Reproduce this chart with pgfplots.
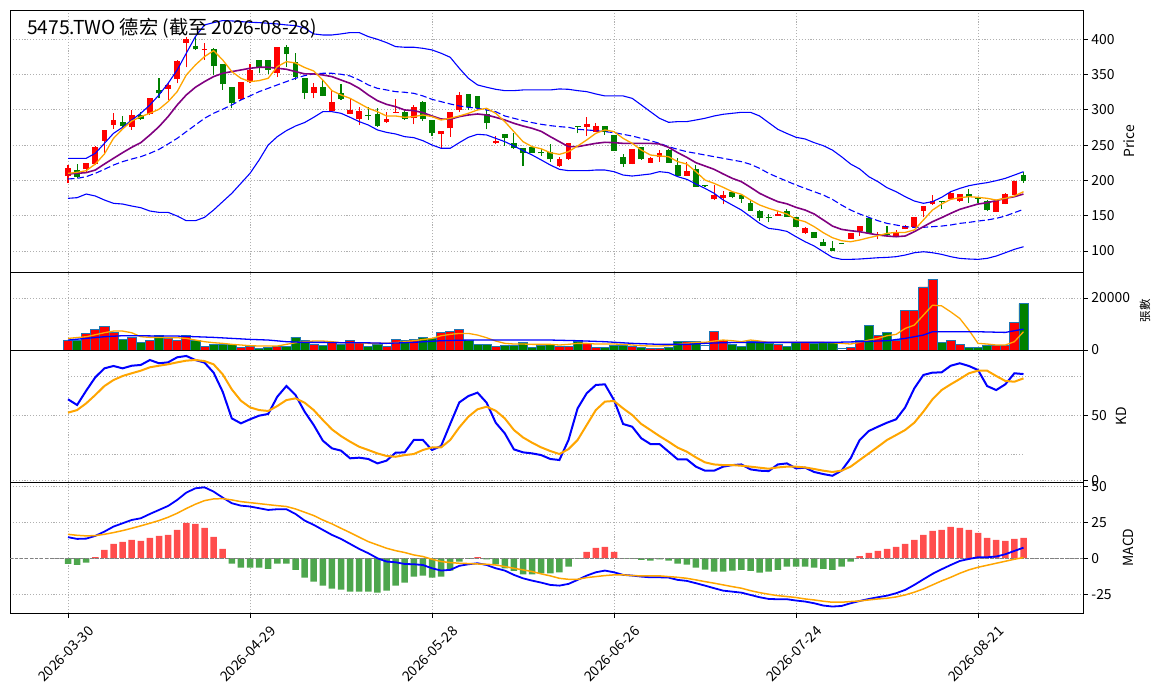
\documentclass[border=0pt]{standalone}
\usepackage{fontspec}
\setmainfont{Noto Sans CJK TC}
\usepackage{pgfplots}
\usepackage{pgfplotstable}
\pgfplotsset{compat=1.18}
\definecolor{cgreen}{RGB}{0,128,0}
\definecolor{hgreen}{RGB}{77,166,77}
\definecolor{hred}{RGB}{255,77,77}
\definecolor{vedge}{RGB}{31,119,180}
\definecolor{maorange}{RGB}{255,165,0}
\definecolor{mapurple}{RGB}{128,0,128}
\definecolor{gridgray}{RGB}{176,176,176}

\pgfplotstableread{
i o h l c v
0 206.2 221.8 196.8 217.1 3822
2 215.7 225.1 212.4 224.2 6497
3 223.2 248.8 221.8 247.3 8026
4 256.3 272.0 238.4 271.5 9173
5 278.5 295.1 272.9 285.6 6752
7 276.2 299.8 271.5 292.7 4714
9 293.7 316.8 292.7 316.3 3567
11 329.6 340.0 314.0 335.3 4459
12 343.3 370.0 337.6 369.3 3822
13 395.3 403.8 360.3 400.0 5733
15 384.9 395.3 370.7 385.8 1274
19 314.9 339.5 314.0 339.0 1019
20 339.0 365.0 337.6 356.5 1529
23 351.8 389.2 347.1 388.7 1274
27 324.4 337.6 316.3 332.0 2293
29 298.9 327.2 298.4 310.7 2930
31 294.1 314.9 293.6 299.8 3822
32 287.0 303.6 278.5 298.4 2803
35 282.3 297.4 281.9 287.0 1400
36 296.0 314.9 295.1 297.2 4204
38 288.0 306.9 279.5 304.5 4204
41 265.3 270.5 245.5 270.0 6752
42 273.8 297.0 262.0 296.5 7262
43 299.8 325.8 296.5 321.1 8026
47 252.5 263.4 252.0 255.9 1274
54 220.9 233.6 219.5 230.3 1401
55 229.9 253.5 229.0 252.5 1401
57 276.2 290.4 263.0 280.0 2675
58 269.1 281.9 268.6 277.1 1019
62 223.2 244.9 222.8 244.5 1274
64 225.1 233.6 224.6 232.2 637
65 232.7 243.0 226.6 239.3 637
68 206.7 226.6 206.3 213.3 3312
71 173.2 193.6 172.2 179.3 7262
72 175.5 185.0 166.1 179.3 3567
78 150.0 156.6 149.6 152.4 2293
81 124.9 133.4 124.5 132.0 2930
86 117.3 125.7 116.9 125.3 1019
87 127.7 135.7 121.5 135.3 3822
89 122.6 126.3 116.9 124.1 5478
91 121.7 129.6 121.3 126.0 3822
92 131.1 136.2 130.7 135.8 15288
93 134.4 148.0 134.0 147.6 15033
94 156.6 163.6 147.6 163.2 24206
95 166.1 179.3 165.7 170.8 27136
97 174.1 183.0 173.7 182.6 3822
98 170.8 181.2 169.9 180.8 2293
102 155.6 171.7 155.2 171.3 1656
103 166.5 181.7 166.1 180.8 1656
104 179.3 199.5 178.9 199.1 10574
}\up

\pgfplotstableread{
i o h l c v
1 214.7 222.8 202.9 205.3 3567
6 282.3 291.3 276.2 277.6 4204
8 292.2 297.4 285.6 287.0 3058
10 328.2 344.7 316.3 323.4 5733
14 390.5 403.8 385.0 385.8 3695
16 385.8 387.2 349.4 362.7 2293
17 365.0 365.5 328.2 336.2 2293
18 332.0 332.5 302.2 309.3 2293
21 370.7 371.2 351.8 358.9 637
22 370.7 371.2 350.9 356.5 1147
24 388.7 392.0 361.2 378.7 1274
25 368.3 380.2 342.3 347.1 4969
26 344.7 345.2 314.9 324.4 3822
28 332.0 343.8 319.5 320.1 1911
30 323.4 336.7 314.0 314.9 2293
33 292.2 303.6 285.6 291.6 1529
34 294.6 302.2 276.0 276.6 2166
37 296.5 299.8 285.6 287.0 3822
39 310.7 313.0 284.7 286.6 4714
40 285.6 286.0 263.0 266.7 4459
44 322.0 322.5 299.8 304.5 3567
45 319.7 320.2 299.8 303.1 2293
46 293.7 299.8 272.4 280.9 2293
48 265.3 265.8 248.8 260.6 1911
49 252.5 267.7 245.0 245.5 1911
50 245.5 246.0 220.4 238.4 2803
51 247.8 248.2 238.8 239.3 1019
52 239.8 244.0 234.6 238.4 1911
53 240.7 251.1 226.6 229.9 2293
56 277.1 277.6 266.7 276.2 3185
59 277.1 277.5 264.4 269.1 1019
60 264.4 264.8 241.8 242.2 1911
61 233.6 236.9 219.5 223.2 1656
63 246.9 247.3 229.5 229.9 1019
66 243.0 244.0 224.7 225.1 892
67 221.8 231.3 206.3 206.7 3312
69 215.7 221.8 190.7 191.1 3312
73 184.0 184.4 174.6 176.9 2166
74 179.3 179.7 168.4 173.6 1274
75 168.4 172.2 156.7 157.1 3440
76 156.6 158.0 142.6 146.2 3440
77 148.6 152.4 140.4 146.2 2548
79 156.6 159.0 148.2 148.6 1274
80 147.6 148.0 134.0 134.4 2930
82 126.3 126.7 118.4 118.8 2548
83 112.2 116.4 107.1 107.5 2930
84 104.6 113.9 100.0 100.4 2803
88 147.2 147.6 124.5 124.9 9555
90 124.1 135.3 121.8 122.2 6625
96 170.8 171.2 159.5 168.9 2803
99 180.8 187.5 168.4 176.0 1019
100 175.5 175.9 168.4 174.1 1019
101 171.3 171.7 156.6 158.0 1911
105 207.6 212.4 196.8 199.1 17836
}\down

\pgfplotstableread{
i o h l c v
70 191.5 192.0 191.0 191.5 1911
85 110.4 110.8 110.0 110.4 637
}\flat

\pgfplotsset{
  panel/.style={
    scale only axis,
    width=1073pt,
    xmin=-6.374, xmax=111.538,
    axis line style={line width=0.8pt},
    xtick={0,20,40,60,80,100},
    grid=major,
    major grid style={draw=gridgray, line width=0.8pt, dash pattern=on 1.1pt off 1.8pt},
    ytick pos=right,
    yticklabel pos=right,
    tick align=outside,
    major tick length=4.9pt,
    every tick/.style={black, line width=0.8pt},
    ticklabel style={font=\fontsize{13.9}{16}\selectfont},
    /pgf/number format/assume math mode=true,
    /pgf/number format/1000 sep={},
    scaled y ticks=false,
    clip=true,
  },
  ylab/.style 2 args={every axis y label/.style={at={(axis description cs:1,0.5)}, xshift=#1, rotate=90, anchor=center, font=\fontsize{#2}{#2}\selectfont}},
  toppanel/.style={xticklabels={}, x tick style={draw=none}},
  wick/.style={draw=none, mark=none, mark size=0pt, forget plot,
    error bars/.cd, y dir=plus, y explicit, error mark=none,
    error bar style={line width=1.1pt, draw=#1, solid}},
  body/.style={draw=none, mark=none, mark size=0pt, forget plot,
    error bars/.cd, y dir=plus, y explicit, error mark=none,
    error bar style={line width=5.8pt, draw=#1, solid}},
  vbar/.style={ybar, bar width=9.1pt, bar shift=0pt, fill=#1, draw=vedge, line width=0.8pt, forget plot},
  refline/.style={draw=gridgray, line width=0.8pt, dash pattern=on 1.1pt off 1.8pt, forget plot},
}

\begin{document}
\begin{tikzpicture}
\useasboundingbox (0,0) rectangle (1164pt,698pt);

% ---------------- Price panel ----------------
\begin{axis}[panel, toppanel, ylab={46pt}{13.9},
  at={(10pt,426pt)}, anchor=south west, height=262pt,
  ymin=70.2, ymax=441.5, ytick={100,150,...,400}, ylabel={Price}]
\addplot[wick=red] table[x=i, y=l, y error expr={\thisrow{h}-\thisrow{l}}] {\up};
\addplot[body=red] table[x=i, y expr={min(\thisrow{o},\thisrow{c})}, y error expr={max(abs(\thisrow{c}-\thisrow{o}),1.4)}] {\up};
\addplot[wick=cgreen] table[x=i, y=l, y error expr={\thisrow{h}-\thisrow{l}}] {\down};
\addplot[body=cgreen] table[x=i, y expr={min(\thisrow{o},\thisrow{c})}, y error expr={max(abs(\thisrow{c}-\thisrow{o}),1.4)}] {\down};
\addplot[wick=cgreen] table[x=i, y=l, y error expr={\thisrow{h}-\thisrow{l}}] {\flat};
\addplot[body=cgreen] table[x=i, y expr={min(\thisrow{o},\thisrow{c})}, y error expr={max(abs(\thisrow{c}-\thisrow{o}),1.4)}] {\flat};
% upper band
\addplot[blue, line width=1.1pt] coordinates {(0,231.3)(1,231.3)(2,231.3)(3,238.4)(4,252.5)(5,266.7)(6,275.2)(7,285.6)(8,295.1)(9,306.9)(10,321.1)(11,337.6)(12,356.5)(13,380.2)(14,403.8)(15,420.3)(16,423.6)(17,426.5)(18,426.0)(19,425.0)(20,424.1)(21,423.6)(22,422.7)(23,421.7)(24,420.3)(25,419.4)(26,416.0)(27,407.6)(28,406.1)(29,406.1)(30,407.6)(31,409.5)(32,409.5)(33,403.8)(34,400.0)(35,395.3)(36,389.6)(37,388.7)(38,388.7)(39,387.2)(40,384.9)(41,380.2)(42,374.5)(43,358.9)(44,344.7)(45,335.3)(46,332.0)(47,329.1)(48,327.2)(49,327.2)(50,328.2)(51,328.2)(52,328.2)(53,328.2)(54,329.6)(55,329.1)(56,327.2)(57,325.8)(58,322.5)(59,319.7)(60,319.7)(61,319.7)(62,316.3)(63,306.9)(64,297.4)(65,288.0)(66,282.3)(67,283.3)(68,283.3)(69,285.6)(70,288.0)(71,291.3)(72,293.7)(73,295.1)(74,296.5)(75,296.5)(76,291.3)(77,281.8)(78,272.4)(79,266.5)(80,261.1)(81,258.7)(82,253.5)(83,249.2)(84,243.0)(85,233.6)(86,223.2)(87,216.2)(88,205.3)(89,198.2)(90,189.7)(91,184.0)(92,176.9)(93,170.8)(94,167.5)(95,169.9)(96,176.0)(97,184.0)(98,188.7)(99,192.5)(100,194.9)(101,196.8)(102,199.6)(103,202.9)(104,207.6)(105,212.4)};
% lower band
\addplot[blue, line width=1.1pt] coordinates {(0,174.6)(1,175.5)(2,180.7)(3,177.9)(4,172.2)(5,167.5)(6,166.5)(7,163.7)(8,161.3)(9,156.6)(10,154.7)(11,154.7)(12,149.5)(13,142.9)(14,142.9)(15,147.6)(16,158.0)(17,169.9)(18,181.7)(19,195.8)(20,210.0)(21,228.9)(22,250.2)(23,262.0)(24,270.5)(25,277.1)(26,282.0)(27,289.4)(28,297.4)(29,297.4)(30,295.1)(31,289.4)(32,283.3)(33,278.5)(34,271.5)(35,268.1)(36,265.8)(37,262.0)(38,260.6)(39,256.3)(40,250.2)(41,245.5)(42,245.5)(43,253.5)(44,261.1)(45,265.3)(46,264.4)(47,259.6)(48,254.9)(49,248.8)(50,242.2)(51,236.0)(52,229.0)(53,221.8)(54,215.7)(55,213.8)(56,213.8)(57,213.8)(58,214.7)(59,214.7)(60,212.4)(61,207.6)(62,206.2)(63,207.6)(64,209.1)(65,212.4)(66,211.0)(67,205.3)(68,201.5)(69,194.9)(70,188.7)(71,181.7)(72,172.2)(73,165.1)(74,158.0)(75,148.6)(76,139.1)(77,132.0)(78,130.4)(79,127.8)(80,120.2)(81,113.1)(82,107.0)(83,98.9)(84,90.9)(85,88.1)(86,88.1)(87,88.6)(88,89.5)(89,90.4)(90,90.9)(91,91.9)(92,94.2)(93,97.5)(94,98.9)(95,97.5)(96,95.2)(97,91.9)(98,89.5)(99,88.6)(100,88.1)(101,89.5)(102,92.8)(103,97.5)(104,102.3)(105,106.0)};
% middle band (MA20)
\addplot[blue, line width=1.1pt, dash pattern=on 6.5pt off 3pt] coordinates {(0,202.0)(1,202.9)(2,205.3)(3,210.0)(4,215.7)(5,221.8)(6,226.6)(7,230.3)(8,233.6)(9,238.4)(10,244.0)(11,251.6)(12,259.6)(13,269.1)(14,278.5)(15,288.0)(16,295.1)(17,300.8)(18,306.9)(19,314.0)(20,319.7)(21,325.8)(22,330.5)(23,335.3)(24,340.0)(25,344.7)(26,348.5)(27,350.9)(28,351.8)(29,351.8)(30,350.4)(31,348.0)(32,342.3)(33,335.3)(34,330.5)(35,328.2)(36,325.8)(37,324.9)(38,323.4)(39,319.7)(40,314.9)(41,311.6)(42,308.3)(43,305.5)(44,303.6)(45,302.2)(46,299.8)(47,297.4)(48,291.3)(49,288.0)(50,284.7)(51,281.9)(52,279.5)(53,277.6)(54,276.2)(55,275.2)(56,272.4)(57,271.5)(58,270.5)(59,269.1)(60,267.7)(61,265.3)(62,262.9)(63,259.6)(64,256.3)(65,252.5)(66,247.8)(67,244.0)(68,240.7)(69,238.4)(70,236.0)(71,233.6)(72,231.3)(73,228.9)(74,226.6)(75,222.8)(76,217.1)(77,210.0)(78,204.3)(79,198.9)(80,193.5)(81,188.7)(82,184.0)(83,179.3)(84,173.1)(85,165.1)(86,158.0)(87,152.4)(88,147.6)(89,142.9)(90,139.1)(91,136.8)(92,134.4)(93,133.5)(94,133.5)(95,134.4)(96,135.3)(97,136.8)(98,139.1)(99,140.5)(100,142.4)(101,143.9)(102,146.2)(103,149.5)(104,154.3)(105,159.0)};
% MA10 purple
\addplot[mapurple, line width=1.6pt] coordinates {(0,209.1)(1,210.0)(2,211.0)(3,214.7)(4,223.2)(5,231.3)(6,239.3)(7,246.9)(8,253.5)(9,264.4)(10,276.2)(11,290.4)(12,306.9)(13,321.1)(14,332.0)(15,340.0)(16,347.1)(17,351.8)(18,354.2)(19,356.5)(20,358.9)(21,360.3)(22,360.3)(23,358.9)(24,357.5)(25,354.2)(26,351.0)(27,350.9)(28,349.4)(29,347.1)(30,342.3)(31,337.6)(32,330.5)(33,321.1)(34,313.0)(35,307.8)(36,304.5)(37,299.8)(38,298.9)(39,296.0)(40,291.3)(41,287.0)(42,286.6)(43,290.4)(44,292.7)(45,294.1)(46,292.7)(47,289.4)(48,285.6)(49,280.9)(50,277.1)(51,273.8)(52,269.5)(53,262.0)(54,254.9)(55,247.8)(56,247.8)(57,250.2)(58,252.5)(59,254.0)(60,253.5)(61,252.5)(62,252.5)(63,252.5)(64,252.5)(65,251.6)(66,246.9)(67,239.3)(68,232.7)(69,225.1)(70,220.4)(71,215.7)(72,209.1)(73,202.9)(74,198.2)(75,190.2)(76,181.7)(77,175.5)(78,169.9)(79,166.8)(80,161.8)(81,158.0)(82,152.4)(83,143.9)(84,135.3)(85,130.6)(86,128.7)(87,127.3)(88,124.9)(89,122.6)(90,121.2)(91,120.2)(92,121.2)(93,127.3)(94,134.4)(95,141.5)(96,147.2)(97,153.3)(98,159.0)(99,162.8)(100,166.5)(101,168.4)(102,171.3)(103,174.6)(104,176.9)(105,180.7)};
% MA5 orange
\addplot[maorange, line width=1.3pt] coordinates {(0,210.0)(1,211.5)(2,213.8)(3,223.2)(4,237.4)(5,259.6)(6,272.9)(7,284.2)(8,290.4)(9,295.1)(10,300.8)(11,311.6)(12,325.8)(13,349.4)(14,363.6)(15,375.4)(16,383.9)(17,370.7)(18,354.2)(19,344.7)(20,340.0)(21,341.4)(22,344.7)(23,361.2)(24,368.3)(25,366.5)(26,360.0)(27,355.1)(28,342.3)(29,327.2)(30,321.1)(31,316.3)(32,309.3)(33,302.2)(34,297.4)(35,291.3)(36,291.3)(37,289.4)(38,290.4)(39,292.7)(40,290.4)(41,285.6)(42,288.0)(43,291.3)(44,295.1)(45,299.8)(46,302.2)(47,295.1)(48,283.3)(49,269.1)(50,254.9)(51,247.8)(52,244.8)(53,239.3)(54,236.9)(55,240.7)(56,248.8)(57,257.3)(58,266.7)(59,271.5)(60,269.1)(61,259.6)(62,252.5)(63,243.0)(64,236.0)(65,234.6)(66,233.6)(67,226.6)(68,223.2)(69,212.4)(70,200.5)(71,195.8)(72,190.2)(73,184.0)(74,180.3)(75,172.2)(76,165.2)(77,160.4)(78,156.5)(79,152.4)(80,144.8)(81,141.5)(82,134.4)(83,125.9)(84,118.8)(85,114.5)(86,113.1)(87,115.5)(88,118.8)(89,121.6)(90,125.0)(91,126.3)(92,126.3)(93,129.7)(94,143.9)(95,158.0)(96,166.5)(97,173.1)(98,175.5)(99,176.9)(100,176.0)(101,174.6)(102,172.2)(103,174.6)(104,177.9)(105,184.0)};
\end{axis}

% ---------------- Volume panel ----------------
\begin{axis}[panel, toppanel, ylab={62pt}{11.5},
  at={(10pt,348pt)}, anchor=south west, height=78pt,
  ymin=0, ymax=29950, ytick={0,20000}, ylabel={張數}]
\addplot[vbar=red] table[x=i, y=v] {\up};
\addplot[vbar=cgreen] table[x=i, y=v] {\down};
\addplot[vbar=white] table[x=i, y=v] {\flat};
\addplot[maorange, line width=1.3pt] coordinates {(0,4459)(2,5096)(4,6625)(5,7262)(6,7262)(7,6625)(8,5096)(9,4841)(10,4841)(11,4714)(12,4714)(13,4459)(14,3822)(15,3185)(16,2803)(17,2548)(18,2166)(19,1911)(20,1656)(21,1529)(22,1529)(23,1529)(24,2166)(25,2803)(26,3185)(27,3440)(28,3440)(29,3185)(30,2803)(31,2803)(32,2803)(33,2548)(34,2548)(35,2548)(36,2803)(38,3567)(40,4459)(41,5478)(42,5988)(43,6370)(44,6370)(45,5733)(46,4714)(47,3440)(48,2548)(49,2293)(50,2293)(51,2166)(52,2166)(53,2166)(54,1911)(55,2166)(56,2548)(57,2548)(58,2293)(59,2293)(60,2293)(61,2166)(62,1911)(63,1656)(64,1529)(65,1529)(66,1656)(67,2166)(68,2548)(69,2930)(70,2930)(71,3440)(72,3822)(73,3567)(74,3185)(75,3822)(76,3440)(77,2930)(78,2930)(79,2930)(80,2930)(81,2930)(82,2930)(83,2930)(84,2803)(85,2548)(86,2293)(87,2930)(88,3822)(89,4459)(90,5478)(91,5988)(92,8281)(93,9555)(94,13377)(95,17199)(96,16944)(97,14651)(98,12103)(99,7644)(100,2548)(101,2293)(102,1911)(103,1911)(104,3185)(105,7007)};
\addplot[blue, line width=1.3pt] coordinates {(0,3822)(2,4459)(4,5096)(6,5478)(8,5478)(10,5351)(12,5351)(14,5096)(16,4841)(18,4459)(20,4077)(22,3822)(24,3185)(26,2930)(28,2930)(30,2803)(32,2803)(34,2675)(35,2548)(38,2930)(41,3567)(44,3822)(47,3822)(50,3822)(53,3822)(56,3567)(59,3185)(62,2548)(65,2166)(68,2166)(70,2548)(72,2803)(75,2930)(78,2930)(81,2930)(84,2930)(87,3185)(90,3567)(92,4459)(94,5733)(95,7007)(97,7007)(100,7007)(103,6752)(105,8026)};
\end{axis}

% ---------------- KD panel ----------------
\begin{axis}[panel, toppanel, ylab={38pt}{13.9},
  at={(10pt,216pt)}, anchor=south west, height=132pt,
  ymin=-1.3, ymax=100.2, ytick={0,50}, ylabel={KD}]
\addplot[refline] coordinates {(0,80)(111.538,80)};
\addplot[refline] coordinates {(0,20)(105,20)};
\addplot[blue, line width=2pt] coordinates {(0,62.3)(1,57.9)(2,68.9)(3,79.2)(4,86.1)(5,87.9)(6,86.1)(7,88.1)(8,88.7)(9,92.5)(10,90.0)(11,90.7)(12,94.6)(13,95.6)(14,92.5)(15,90.5)(16,82.8)(17,68.1)(18,47.6)(19,43.8)(20,46.9)(21,49.7)(22,51.0)(23,64.3)(24,72.5)(25,65.6)(26,52.8)(27,42.5)(28,30.5)(29,24.6)(30,22.8)(31,16.9)(32,17.4)(33,16.4)(34,13.0)(35,15.1)(36,21.2)(37,21.5)(38,31.0)(39,31.0)(40,23.3)(41,26.4)(42,43.3)(43,59.9)(44,64.8)(45,67.4)(46,59.7)(47,44.3)(48,36.1)(49,23.8)(50,21.5)(51,20.7)(52,19.4)(53,16.4)(54,15.6)(55,31.0)(56,55.3)(57,66.9)(58,73.3)(59,73.8)(60,61.7)(61,43.3)(62,41.2)(63,32.3)(64,27.9)(65,27.9)(66,22.0)(67,16.1)(68,16.1)(69,10.5)(70,7.4)(71,7.4)(72,10.5)(73,11.7)(74,12.2)(75,8.4)(76,7.4)(77,7.1)(78,12.2)(79,13.0)(80,9.2)(81,9.7)(82,6.4)(83,4.8)(84,3.5)(85,7.4)(86,16.9)(87,31.0)(88,37.9)(89,41.2)(90,44.3)(91,46.9)(92,56.1)(93,70.7)(94,81.0)(95,82.8)(96,83.0)(97,88.1)(98,90.0)(99,87.9)(100,84.8)(101,72.5)(102,69.4)(103,73.8)(104,82.3)(105,81.7)};
\addplot[maorange, line width=2pt] coordinates {(0,52.0)(1,54.0)(2,59.2)(3,65.6)(4,72.5)(5,77.1)(6,80.2)(7,82.3)(8,84.3)(9,86.9)(10,88.1)(11,89.2)(12,90.7)(13,92.0)(14,92.5)(15,91.7)(16,89.2)(17,81.5)(18,69.9)(19,61.2)(20,56.1)(21,54.0)(22,53.3)(23,57.1)(24,61.7)(25,63.0)(26,59.7)(27,54.0)(28,46.4)(29,39.2)(30,34.0)(31,29.7)(32,25.8)(33,23.3)(34,20.7)(35,18.7)(36,18.1)(37,19.4)(38,20.2)(39,23.3)(40,25.3)(41,25.3)(42,31.0)(43,40.7)(44,48.9)(45,54.6)(46,56.6)(47,53.5)(48,47.6)(49,38.7)(50,33.0)(51,28.9)(52,25.3)(53,22.5)(54,20.2)(55,24.0)(56,31.0)(57,42.5)(58,54.0)(59,60.5)(60,61.0)(61,55.3)(62,50.2)(63,43.3)(64,38.7)(65,34.0)(66,29.7)(67,25.1)(68,22.0)(69,17.6)(70,13.8)(71,12.2)(72,11.7)(73,11.7)(74,11.2)(75,10.5)(76,9.7)(77,8.9)(78,9.9)(79,10.5)(80,10.5)(81,9.9)(82,8.7)(83,7.4)(84,6.4)(85,7.4)(86,10.5)(87,15.6)(88,20.7)(89,25.8)(90,31.0)(91,34.8)(92,38.7)(93,44.3)(94,52.8)(95,62.3)(96,69.4)(97,73.8)(98,77.9)(99,82.3)(100,84.3)(101,84.3)(102,80.2)(103,76.4)(104,75.8)(105,78.4)};
\end{axis}

% ---------------- MACD panel ----------------
\begin{axis}[panel, ylab={45pt}{13.9},
  at={(10pt,85pt)}, anchor=south west, height=131pt,
  ymin=-38.2, ymax=53.2, ytick={-25,0,25,50}, ylabel={MACD},
  xtick pos=bottom,
  xticklabels={2026-03-30,2026-04-29,2026-05-28,2026-06-26,2026-07-24,2026-08-21},
  x tick label style={anchor=center, xshift=-2pt, yshift=-36pt, rotate=45, inner sep=0pt}]
\addplot[ybar, bar width=6.5pt, bar shift=0pt, fill=hred, draw=none] coordinates {(3,0.7)(4,5.8)(5,10.0)(6,11.4)(7,12.8)(8,12.1)(9,14.2)(10,15.6)(11,16.3)(12,19.8)(13,24.7)(14,24.0)(15,21.2)(16,14.9)(17,6.5)(45,0.7)(57,4.4)(58,7.2)(59,7.9)(60,4.4)(87,1.4)(88,3.7)(89,5.1)(90,6.5)(91,7.9)(92,10.0)(93,12.8)(94,16.3)(95,19.1)(96,19.8)(97,21.9)(98,21.2)(99,19.8)(100,17.7)(101,14.2)(102,12.8)(103,12.1)(104,13.5)(105,14.2)};
\addplot[ybar, bar width=6.5pt, bar shift=0pt, fill=hgreen, draw=none] coordinates {(0,-4.0)(1,-4.7)(2,-3.0)(18,-3.7)(19,-6.5)(20,-6.5)(21,-6.5)(22,-7.4)(23,-3.7)(24,-3.7)(25,-8.1)(26,-13.5)(27,-16.3)(28,-19.1)(29,-21.2)(30,-21.9)(31,-23.3)(32,-23.3)(33,-23.3)(34,-24.0)(35,-22.6)(36,-19.1)(37,-17.0)(38,-12.8)(39,-12.1)(40,-13.5)(41,-12.8)(42,-8.6)(43,-2.3)(44,-0.5)(46,-0.7)(47,-4.2)(48,-7.0)(49,-8.8)(50,-11.2)(51,-11.2)(52,-10.5)(53,-10.5)(54,-9.8)(55,-5.8)(56,-0.3)(61,-0.2)(62,-0.3)(63,-1.2)(64,-1.6)(65,-0.7)(66,-1.6)(67,-3.7)(68,-4.4)(69,-6.5)(70,-7.9)(71,-9.3)(72,-9.3)(73,-8.6)(74,-8.1)(75,-8.8)(76,-10.0)(77,-9.3)(78,-8.1)(79,-5.8)(80,-5.8)(81,-5.8)(82,-6.5)(83,-7.4)(84,-8.1)(85,-5.8)(86,-2.3)};
\addplot[gray, line width=0.8pt, dash pattern=on 3.5pt off 1.5pt, forget plot] coordinates {(-6.374,0)(111.538,0)};
\addplot[blue, line width=1.8pt] coordinates {(0,14.7)(1,13.5)(2,13.7)(3,15.6)(4,18.6)(5,22.1)(6,24.4)(7,26.7)(8,27.9)(9,30.9)(10,33.7)(11,36.5)(12,40.7)(13,45.8)(14,48.8)(15,49.5)(16,46.5)(17,42.3)(18,38.4)(19,36.7)(20,36.1)(21,34.9)(22,33.7)(23,34.2)(24,34.2)(25,30.9)(26,26.3)(27,23.3)(28,19.8)(29,16.3)(30,13.5)(31,10.0)(32,6.5)(33,3.5)(34,0.0)(35,-2.3)(36,-2.8)(37,-4.0)(38,-4.2)(39,-4.7)(40,-7.0)(41,-8.6)(42,-8.1)(43,-5.3)(44,-4.2)(45,-3.5)(46,-4.7)(47,-7.0)(48,-8.6)(49,-11.6)(50,-14.0)(51,-15.6)(52,-17.0)(53,-18.6)(54,-19.1)(55,-17.9)(56,-15.1)(57,-12.1)(58,-9.8)(59,-8.6)(60,-9.8)(61,-11.6)(62,-12.1)(63,-12.8)(64,-13.3)(65,-13.3)(66,-13.5)(67,-15.1)(68,-15.8)(69,-17.4)(70,-19.1)(71,-20.9)(72,-22.6)(73,-23.3)(74,-24.0)(75,-25.6)(76,-27.2)(77,-28.4)(78,-28.6)(79,-28.6)(80,-29.5)(81,-30.2)(82,-31.4)(83,-33.0)(84,-33.7)(85,-33.3)(86,-31.4)(87,-29.8)(88,-28.4)(89,-27.2)(90,-26.1)(91,-24.4)(92,-22.1)(93,-18.6)(94,-14.7)(95,-10.9)(96,-7.7)(97,-4.7)(98,-1.9)(99,-0.5)(100,0.7)(101,0.7)(102,1.2)(103,2.8)(104,5.1)(105,7.4)};
\addplot[maorange, line width=1.5pt] coordinates {(0,16.7)(1,16.0)(2,15.6)(3,15.8)(4,16.7)(5,17.9)(6,19.3)(7,20.9)(8,22.6)(9,24.4)(10,26.3)(11,28.6)(12,31.4)(13,34.7)(14,37.7)(15,40.2)(16,41.4)(17,41.6)(18,40.7)(19,39.5)(20,38.8)(21,38.1)(22,37.4)(23,36.7)(24,36.1)(25,34.4)(26,32.1)(27,29.8)(28,26.7)(29,24.0)(30,20.9)(31,17.9)(32,14.7)(33,11.6)(34,9.3)(35,7.0)(36,5.3)(37,4.0)(38,2.3)(39,1.2)(40,-0.7)(41,-2.3)(42,-3.0)(43,-3.5)(44,-3.7)(45,-4.0)(46,-4.2)(47,-4.7)(48,-5.8)(49,-7.0)(50,-8.1)(51,-9.3)(52,-10.9)(53,-12.3)(54,-14.0)(55,-14.7)(56,-14.7)(57,-13.5)(58,-12.8)(59,-12.1)(60,-11.6)(61,-11.6)(62,-12.1)(63,-12.3)(64,-12.3)(65,-12.3)(66,-12.8)(67,-13.3)(68,-14.0)(69,-15.1)(70,-16.3)(71,-17.4)(72,-18.6)(73,-19.8)(74,-20.9)(75,-22.6)(76,-24.0)(77,-25.1)(78,-26.1)(79,-26.7)(80,-27.4)(81,-28.4)(82,-29.1)(83,-30.0)(84,-30.7)(85,-30.7)(86,-30.2)(87,-29.8)(88,-29.1)(89,-28.4)(90,-27.9)(91,-27.0)(92,-25.6)(93,-23.7)(94,-21.4)(95,-18.6)(96,-15.8)(97,-13.3)(98,-10.5)(99,-8.1)(100,-6.3)(101,-4.9)(102,-3.5)(103,-2.1)(104,-0.7)(105,0.5)};
\end{axis}

\node[anchor=base west, inner sep=0pt, font=\fontsize{19.2}{22}\selectfont] at (27pt,663pt) {5475.TWO 德宏 (截至 2026-08-28)};
\end{tikzpicture}
\end{document}
